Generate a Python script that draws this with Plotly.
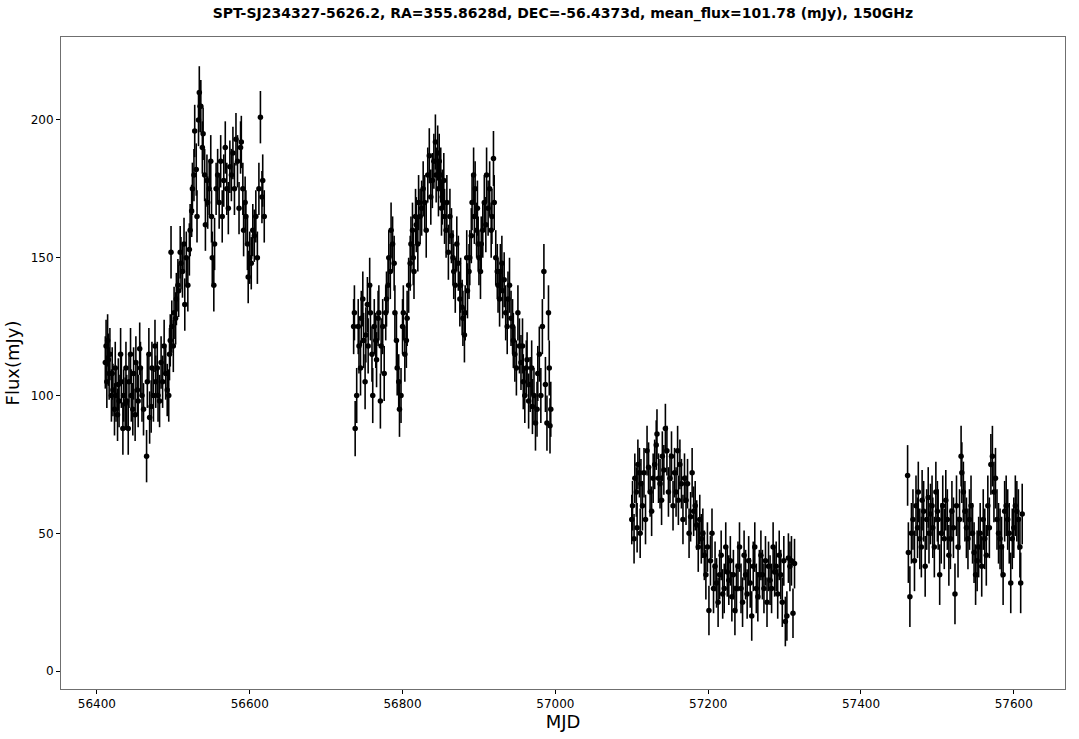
import plotly.graph_objects as go

# ---------------- data ----------------
mjd_s1 = [56411, 56412, 56413, 56414, 56415, 56416, 56417, 56419,
          56420, 56421, 56423, 56424, 56425, 56427, 56428, 56429, 56431, 56432, 56434, 56435, 56437,
          56438, 56439, 56441, 56442, 56444, 56445, 56447, 56448, 56450, 56451, 56453, 56454, 56456,
          56457, 56459, 56461, 56465, 56466, 56468, 56469, 56471, 56472, 56474, 56476,
          56477, 56479, 56480, 56482, 56484, 56486, 56488, 56490, 56492, 56494,
          56495, 56496, 56497,
          56498, 56500, 56501, 56503, 56504, 56506, 56507, 56509, 56510, 56512, 56514, 56515, 56517, 56519, 56521,
          56522, 56524, 56525, 56527, 56528, 56530, 56531, 56533, 56534, 56535,
          56536, 56538, 56539, 56541, 56542, 56544, 56545, 56547, 56549, 56550, 56551, 56553, 56554,
          56556, 56558, 56560, 56562, 56564, 56566, 56568, 56570, 56572, 56574, 56576, 56578, 56580, 56582, 56584, 56586,
          56588, 56589, 56591, 56592, 56594, 56595, 56597, 56598, 56600, 56602, 56604,
          56606, 56608, 56610, 56612, 56614, 56616, 56617, 56619]
flux_s1 = [112, 118, 105, 120, 113, 108, 115, 100,
           108, 102, 95, 110, 100, 93, 104, 98, 115, 105, 88, 100, 97,
           110, 98, 88, 105, 115, 100, 95, 108, 93, 112, 102, 98, 117,
           110, 100, 95, 78, 105, 115, 92, 96, 110, 100, 118,
           105, 110, 100, 98, 112, 105, 118, 108, 102, 100,
           115, 120, 152,
           125, 118, 130, 128, 135, 140, 138, 152, 148, 145, 155, 133, 150, 140, 153,
           160, 167, 175, 180, 196, 182, 165, 200, 210, 205,
           205, 190, 195, 180, 162, 178, 170, 175, 185, 165, 150, 140, 155,
           175, 180, 170, 185, 165, 178, 190, 175, 168, 183, 180, 188, 175, 193, 185, 168,
           190, 192, 175, 160, 170, 165, 155, 143, 150, 148, 160,
           158, 165, 150, 175, 201, 172, 178, 165]

mjd_s2 = [56736, 56737, 56738, 56740, 56742, 56743,
          56745, 56746, 56748, 56749, 56751, 56752, 56754, 56755, 56757, 56758, 56760, 56761, 56763,
          56765, 56766, 56768, 56769, 56771, 56772, 56774, 56776,
          56778, 56779, 56781, 56782, 56784, 56785, 56787, 56789,
          56790, 56792, 56793, 56795, 56796, 56798, 56800, 56801, 56803, 56805, 56806, 56808,
          56810, 56811, 56813, 56814, 56815, 56817, 56818, 56820, 56821,
          56823, 56825, 56827, 56829, 56831, 56833, 56835, 56837, 56839, 56841,
          56843, 56844, 56846, 56847, 56848, 56850, 56851, 56852, 56854, 56855,
          56857, 56858, 56860, 56862, 56864, 56866, 56867, 56869, 56871, 56873, 56875,
          56876, 56878, 56879, 56881, 56882, 56884, 56885, 56887,
          56888, 56890, 56891, 56893, 56894, 56895, 56897, 56898, 56899, 56900,
          56902, 56903, 56905, 56907, 56909, 56910, 56912, 56914, 56916, 56917, 56919, 56920,
          56922, 56924, 56925, 56927, 56928, 56930, 56931, 56933,
          56935, 56937, 56938, 56940, 56942, 56944, 56945, 56947, 56949, 56951, 56953,
          56955, 56957, 56958, 56960, 56962, 56963, 56965, 56967, 56969, 56970, 56972,
          56974, 56976, 56977, 56979, 56981, 56983, 56985, 56987, 56989, 56991, 56992, 56993, 56994]
flux_s2 = [125, 130, 88, 100, 125, 118,
           110, 128, 135, 120, 105, 122, 133, 118, 140, 130, 115, 100, 125,
           120, 113, 128, 130, 98, 118, 125, 108,
           130, 135, 140, 150, 145, 160, 155, 148,
           130, 120, 110, 105, 95, 100, 125, 130, 115, 120, 128, 140,
           148, 155, 160, 150, 145, 165, 162, 155, 170,
           165, 168, 175, 170, 160, 180, 187, 172, 178, 185,
           192, 180, 188, 175, 185, 180, 168, 172, 178, 165,
           160, 170, 152, 165, 158, 150, 145, 140, 155, 148, 135,
           140, 132, 128, 122, 130, 150, 138, 145,
           150, 158, 170, 180, 165, 175, 160, 168, 155, 150,
           145, 155, 160, 170, 162, 180, 168, 175, 160, 165, 186, 170,
           150, 145, 140, 135, 145, 148, 138, 142,
           130, 125, 135, 140, 128, 125, 120, 115, 110, 130, 118,
           112, 118, 105, 100, 110, 113, 98, 104, 110, 96, 100,
           90, 95, 108, 115, 100, 125, 145, 104, 90, 130, 110, 89, 95]

mjd_s3 = [57100, 57101, 57103, 57104, 57106, 57107, 57108, 57110, 57111,
          57112, 57114, 57116, 57118, 57120, 57122, 57124, 57126, 57128,
          57130, 57132, 57133, 57135, 57137, 57139, 57140, 57142, 57144, 57146, 57148,
          57150, 57152, 57154, 57156, 57158, 57160, 57161, 57163, 57165, 57167, 57169,
          57171, 57173, 57175, 57177, 57179, 57181, 57183, 57185, 57187,
          57189, 57191, 57193, 57195, 57197, 57199, 57201, 57203, 57205, 57207,
          57209, 57211, 57213, 57215, 57217, 57219, 57221, 57223, 57225, 57227,
          57229, 57231, 57233, 57235, 57237, 57239, 57241, 57243, 57245, 57247,
          57249, 57251, 57253, 57255, 57257, 57259, 57261, 57263, 57265, 57267,
          57269, 57271, 57273, 57275, 57277, 57279, 57281, 57283, 57285, 57287,
          57289, 57291, 57293, 57295, 57297, 57299, 57301, 57303, 57305, 57307, 57309, 57311, 57313]
flux_s3 = [55, 60, 48, 70, 65, 52, 75, 72, 50,
           68, 60, 72, 55, 80, 74, 65, 58, 70,
           75, 82, 86, 70, 68, 62, 78, 73, 88, 80, 65,
           70, 78, 60, 72, 65, 80, 62, 75, 68, 55, 70,
           62, 68, 50, 56, 72, 58, 60, 53, 45,
           55, 48, 50, 42, 35, 45, 22, 40, 50, 30,
           38, 32, 25, 35, 42, 28, 30, 45, 36, 33,
           40, 27, 35, 22, 30, 38, 45, 30, 25, 42,
           35, 28, 40, 32, 20, 38, 45, 30, 27, 35,
           42, 35, 30, 40, 25, 38, 33, 30, 45, 36,
           38, 28, 42, 35, 25, 40, 18, 20, 41, 38, 40, 21, 39]

mjd_s4 = [57461, 57462, 57464, 57466, 57468, 57470,
          57472, 57474, 57475, 57477, 57479, 57480, 57482, 57484, 57486, 57488, 57489,
          57491, 57493, 57494, 57496, 57498, 57500, 57501, 57503, 57505, 57507, 57509,
          57511, 57513, 57515, 57517, 57519, 57521, 57523, 57525, 57527, 57529,
          57531, 57532, 57534, 57536, 57538, 57540, 57542, 57544, 57546, 57548,
          57550, 57552, 57554, 57556, 57558, 57560, 57562, 57564, 57566, 57568,
          57570, 57572, 57574, 57576, 57578, 57580, 57582, 57584, 57586, 57588,
          57590, 57592, 57594, 57596, 57598, 57600, 57602, 57604, 57606, 57608, 57609, 57611]
flux_s4 = [71, 43, 27, 50, 55, 40,
           60, 52, 65, 48, 45, 62, 58, 38, 55, 63, 50,
           57, 60, 52, 45, 65, 58, 55, 35, 50, 60, 48,
           62, 55, 42, 48, 58, 52, 28, 60, 45, 55,
           78, 72, 65, 58, 52, 48, 55, 60, 50, 43,
           35, 40, 45, 50, 38, 55, 48, 42, 60, 52,
           75, 78, 65, 70, 55, 50, 48, 45, 35, 58,
           60, 55, 50, 32, 48, 52, 60, 58, 55, 45, 32, 57]

# typical 1-sigma flux error of each observing season (mJy)
season_err = [9.5, 10.0, 9.0, 11.0]

x_ticks = [56400, 56600, 56800, 57000, 57200, 57400, 57600]
y_ticks = [0, 50, 100, 150, 200]

title_text = ("SPT-SJ234327-5626.2, RA=355.8628d, DEC=-56.4373d, "
              "mean_flux=101.78 (mJy), 150GHz")

# ---------------- figure ----------------
mjd_all = mjd_s1 + mjd_s2 + mjd_s3 + mjd_s4
flux_all = flux_s1 + flux_s2 + flux_s3 + flux_s4
err_all = ([season_err[0]] * len(mjd_s1) + [season_err[1]] * len(mjd_s2)
           + [season_err[2]] * len(mjd_s3) + [season_err[3]] * len(mjd_s4))

FONT = "DejaVu Sans"
W, H = 1079, 739

fig = go.Figure()
fig.add_trace(go.Scatter(
    x=mjd_all, y=flux_all, mode="markers",
    marker=dict(color="black", size=5.5),
    error_y=dict(type="data", array=err_all, visible=True,
                 color="black", thickness=1.6, width=0),
    showlegend=False, hoverinfo="skip",
))

fig.update_layout(
    width=W, height=H,
    margin=dict(l=61, r=14, t=37, b=50),
    paper_bgcolor="white", plot_bgcolor="white",
    font=dict(family=FONT, color="black"),
    title=dict(text="<b>" + title_text + "</b>", x=0.5, xref="paper",
               xanchor="center", y=1 - 13 / H, yanchor="middle",
               font=dict(family=FONT, size=14, color="black")),
)
fig.update_xaxes(
    range=[56353, 57667], tickvals=x_ticks, ticktext=[str(v) for v in x_ticks],
    showgrid=False, zeroline=False, automargin=False,
    showline=True, linecolor="#6f6f6f", linewidth=1, mirror=True,
    ticks="outside", ticklen=4, tickcolor="black", tickwidth=1,
    tickfont=dict(size=12, color="black"),
    title=dict(text="MJD", font=dict(size=18), standoff=4),
)
fig.update_yaxes(
    range=[-6.5, 230.1], tickvals=y_ticks, ticktext=[str(v) for v in y_ticks],
    showgrid=False, zeroline=False, automargin=False,
    showline=True, linecolor="#6f6f6f", linewidth=1, mirror=True,
    ticks="outside", ticklen=4, tickcolor="black", tickwidth=1,
    tickfont=dict(size=12, color="black"),
    title=dict(text="Flux(mJy)", font=dict(size=18), standoff=6),
)

fig.write_html("out.html",
               config={"displayModeBar": False},
               post_script="document.body.style.margin='0';")
